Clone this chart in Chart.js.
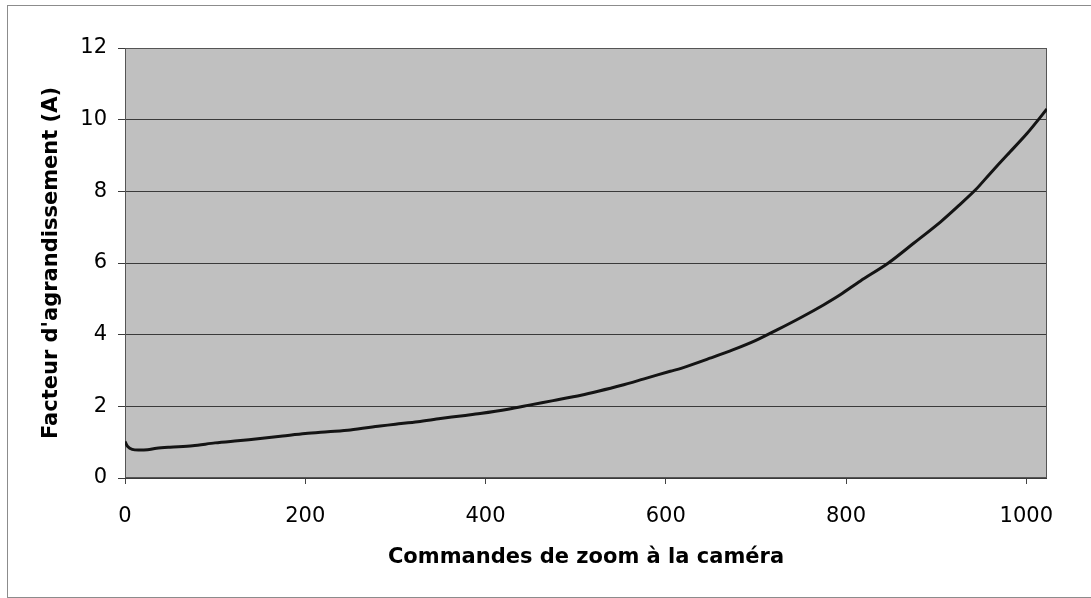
<!DOCTYPE html>
<html>
<head>
<meta charset="utf-8">
<script src="https://cdn.jsdelivr.net/npm/chart.js@4.4.0/dist/chart.umd.min.js"></script>
<style>
  body { margin: 0; background: #fff; overflow: hidden; }
  #wrap { position: relative; width: 1091px; height: 598px; }
  #frame {
    position: absolute; left: 7px; top: 5px; width: 1100px; height: 591px;
    border: 1px solid #8c8c8c; pointer-events: none;
  }
  canvas { position: absolute; left: 0; top: 0; }
</style>
</head>
<body>
<div id="wrap">
  <canvas id="chart" width="1091" height="598"></canvas>
  <div id="frame"></div>
</div>
<script>
'use strict';

// zoom command sent to the camera (x) and measured magnification (y)
const zoomCommands = [0, 3, 8, 15, 25, 35, 50, 75, 100, 125, 150, 175, 200, 225, 250, 283, 300, 325, 350, 375,
  394, 425, 450, 475, 506, 525, 550, 575, 605, 617, 650, 675, 700, 724, 750, 775, 794, 816, 847, 875,
  905, 925, 944, 960, 979, 1001, 1023];
const magnification = [1.02, 0.88, 0.80, 0.78, 0.79, 0.83, 0.86, 0.90, 0.98, 1.04, 1.10, 1.17, 1.24, 1.29, 1.34, 1.45, 1.50, 1.57, 1.66, 1.74,
  1.80, 1.92, 2.04, 2.16, 2.31, 2.42, 2.58, 2.76, 2.98, 3.06, 3.35, 3.58, 3.84, 4.14, 4.48, 4.83, 5.12, 5.50, 6.00, 6.55,
  7.15, 7.60, 8.05, 8.50, 9.02, 9.62, 10.30];
const xTickValues = [0, 200, 400, 600, 800, 1000];
const yTickValues = [0, 2, 4, 6, 8, 10, 12];

const xTitle = 'Commandes de zoom à la caméra';
const yTitle = "Facteur d'agrandissement (A)";

let canvasElem = document.getElementById('chart');

// grey plot background and dark frame around the plot area
const plotBox = {
  id: 'plotBox',
  beforeDraw(chart) {
    let a = chart.chartArea;
    let ctx = chart.ctx;
    ctx.save();
    ctx.fillStyle = '#c0c0c0';
    ctx.fillRect(a.left, a.top, a.right - a.left, a.bottom - a.top);
    ctx.restore();
  },
  beforeDatasetsDraw(chart) {
    let a = chart.chartArea;
    let ctx = chart.ctx;
    ctx.save();
    ctx.strokeStyle = '#555';
    ctx.lineWidth = 1;
    ctx.strokeRect(a.left + 0.5, a.top + 0.5, a.right - a.left - 1, a.bottom - a.top - 1);
    ctx.restore();
  }
};

let chartData = {
  datasets: [{
    label: 'A',
    data: zoomCommands.map((z, i) => ({ x: z, y: magnification[i] })),
    borderColor: '#141414',
    borderWidth: 3,
    pointRadius: 0,
    tension: 0.3
  }]
};

let tickFont = { family: 'DejaVu Sans', size: 21 };
let titleFont = { family: 'DejaVu Sans', size: 21, weight: 'bold' };

let chartConfig = {
  type: 'line',
  data: chartData,
  plugins: [plotBox],
  options: {
    responsive: false,
    animation: false,
    devicePixelRatio: 1,
    layout: { padding: { left: 0, top: 48, right: 44, bottom: 0 } },
    plugins: {
      legend: { display: false },
      tooltip: { enabled: false }
    },
    scales: {
      x: {
        type: 'linear',
        min: 0,
        max: 1023,
        afterBuildTicks: scale => { scale.ticks = xTickValues.map(v => ({ value: v })); },
        afterFit: scale => { scale.height = 120; },
        ticks: { color: '#000', font: tickFont, padding: 20, maxRotation: 0, callback: v => String(v) },
        grid: { drawOnChartArea: false, drawTicks: true, tickLength: 6, color: '#444' },
        border: { display: false },
        title: { display: true, text: xTitle, color: '#000', font: titleFont, padding: { top: 0, bottom: 28 } }
      },
      y: {
        min: 0,
        max: 12,
        afterBuildTicks: scale => { scale.ticks = yTickValues.map(v => ({ value: v })); },
        afterFit: scale => { scale.width = 125; },
        ticks: { color: '#000', font: tickFont, padding: 11, callback: v => String(v) },
        grid: { color: '#3a3a3a', lineWidth: 1, drawTicks: true, tickLength: 7 },
        border: { display: false },
        title: { display: true, text: yTitle, color: '#000', font: titleFont, padding: { top: 39, bottom: 0 } }
      }
    }
  }
};

let myChart = new Chart(canvasElem, chartConfig);
</script>
</body>
</html>
